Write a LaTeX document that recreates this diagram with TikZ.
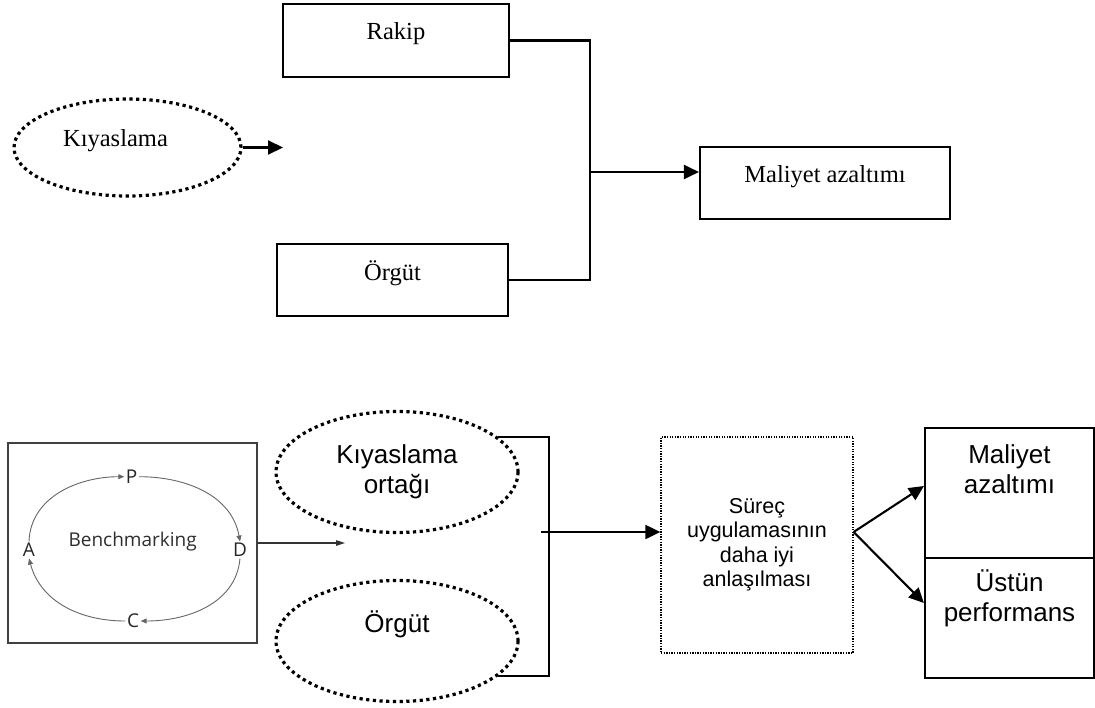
\documentclass[tikz,border=0pt]{standalone}
\usepackage{fontspec}
\setmainfont{Liberation Serif}
\newfontfamily\arialf{Liberation Sans}
\newfontfamily\myrf{Open Sans}
\usetikzlibrary{arrows.meta,shapes.geometric,calc}
\begin{document}
\begin{tikzpicture}[x=1pt,y=1pt,
  box/.style={draw, line width=2.1pt, inner sep=0pt},
  dotell/.style={draw, ellipse, line width=3.2pt, dash pattern=on 3.2pt off 3.5pt, inner sep=0pt},
  conn/.style={line width=2.1pt},
  arr/.style={conn, -{Triangle[length=15pt,width=14pt]}},
  serif/.style={font=\fontsize{24.5}{29}\selectfont},
  sans/.style={font=\arialf\fontsize{26}{30}\selectfont, align=center},
  bm/.style={font=\myrf\fontsize{19}{22}\selectfont, text=black!82},
  bl/.style={font=\myrf\fontsize{19}{20}\selectfont, text=black!85, inner sep=1.5pt},
  cyc/.style={draw=black!60, line width=0.9pt, -{Triangle[length=6pt,width=5pt]}}
]
\useasboundingbox (0,0) rectangle (1095,-707);

% ---------- top diagram ----------
\node[box, minimum width=226pt, minimum height=73pt,
      label={[serif,yshift=6.5pt]center:Rakip}] (rakip) at (396,-40.5) {};
\node[box, minimum width=231pt, minimum height=72pt,
      label={[serif,yshift=7pt]center:Örgüt}] (orgut) at (392.5,-280) {};
\node[box, minimum width=250pt, minimum height=72pt,
      label={[serif,yshift=6pt]center:Maliyet azaltımı}] (mal) at (825,-183) {};
\node[dotell, minimum width=227pt, minimum height=97pt,
      label={[serif,xshift=-12pt,yshift=6.5pt]center:Kıyaslama}] (kiy) at (127.5,-147.5) {};
\coordinate (kiyend) at (283,-147.5);
\draw[arr] (kiy.east) -- (kiyend);
\coordinate (tj) at (590,-172);
\draw[conn] (rakip.east) -- (rakip.east -| tj) -- (orgut.east -| tj) -- (orgut.east);
\draw[arr] (tj) -- (tj -| mal.west);

% ---------- bottom diagram ----------
\node[draw=black!75, line width=1.6pt, minimum width=249pt, minimum height=200pt, inner sep=0pt] (bench) at (132.5,-543) {};
\node[bm] (bmt) at (132.7,-541.7) {Benchmarking};
\node[bl] (P) at (131.7,-476.7) {P};
\node[bl] (D) at (240,-550) {D};
\node[bl] (C) at (133,-621) {C};
\node[bl] (A) at (29,-550) {A};
\draw[cyc] (A.north) to[out=88,in=180] (P.west);
\draw[cyc] (P.east) to[out=0,in=100] (D.north);
\draw[cyc] (D.south) to[out=-95,in=0] (C.east);
\draw[cyc] (C.west) to[out=180,in=-75] (A.south);
\coordinate (bend) at (345,-543);
\draw[draw=black!80, line width=1.1pt, -{Triangle[length=9pt,width=5.5pt]}] (bench.east) -- (bend);

\node[dotell, sans, minimum width=242pt, minimum height=121pt] (ko) at (397,-472) {Kıyaslama\\ortağı};
\node[dotell, minimum width=242pt, minimum height=121pt,
      label={[sans,yshift=17pt]center:Örgüt}] (og) at (397,-641) {};
\coordinate (bj) at (549,-532);
\draw[conn] (ko.19) -- (ko.19 -| bj) -- (og.-19.6 -| bj) -- (og.-19.6);

\node[draw, line width=1.3pt, dash pattern=on 1.3pt off 1.3pt, minimum width=192pt, minimum height=216pt,
      inner sep=0pt, font=\arialf\fontsize{21.5}{24.5}\selectfont, align=center] (sur) at (757,-545)
      {Süreç\\uygulamasının\\daha iyi\\anlaşılması};
\draw[arr] ([xshift=-8pt]bj) -- (bj -| sur.west);

\node[box, minimum width=169pt, minimum height=130pt,
      label={[sans,yshift=24pt]center:Maliyet\\azaltımı}] (m1) at (1009.5,-493) {};
\node[box, minimum width=169pt, minimum height=120pt,
      label={[sans,yshift=20pt]center:Üstün\\performans}] (m2) at (1009.5,-618) {};
\coordinate (sj) at ([yshift=13pt]sur.east);
\draw[arr] (sj) -- ([yshift=7pt]m1.west);
\draw[arr] (sj) -- ([yshift=15pt]m2.west);
\end{tikzpicture}
\end{document}
